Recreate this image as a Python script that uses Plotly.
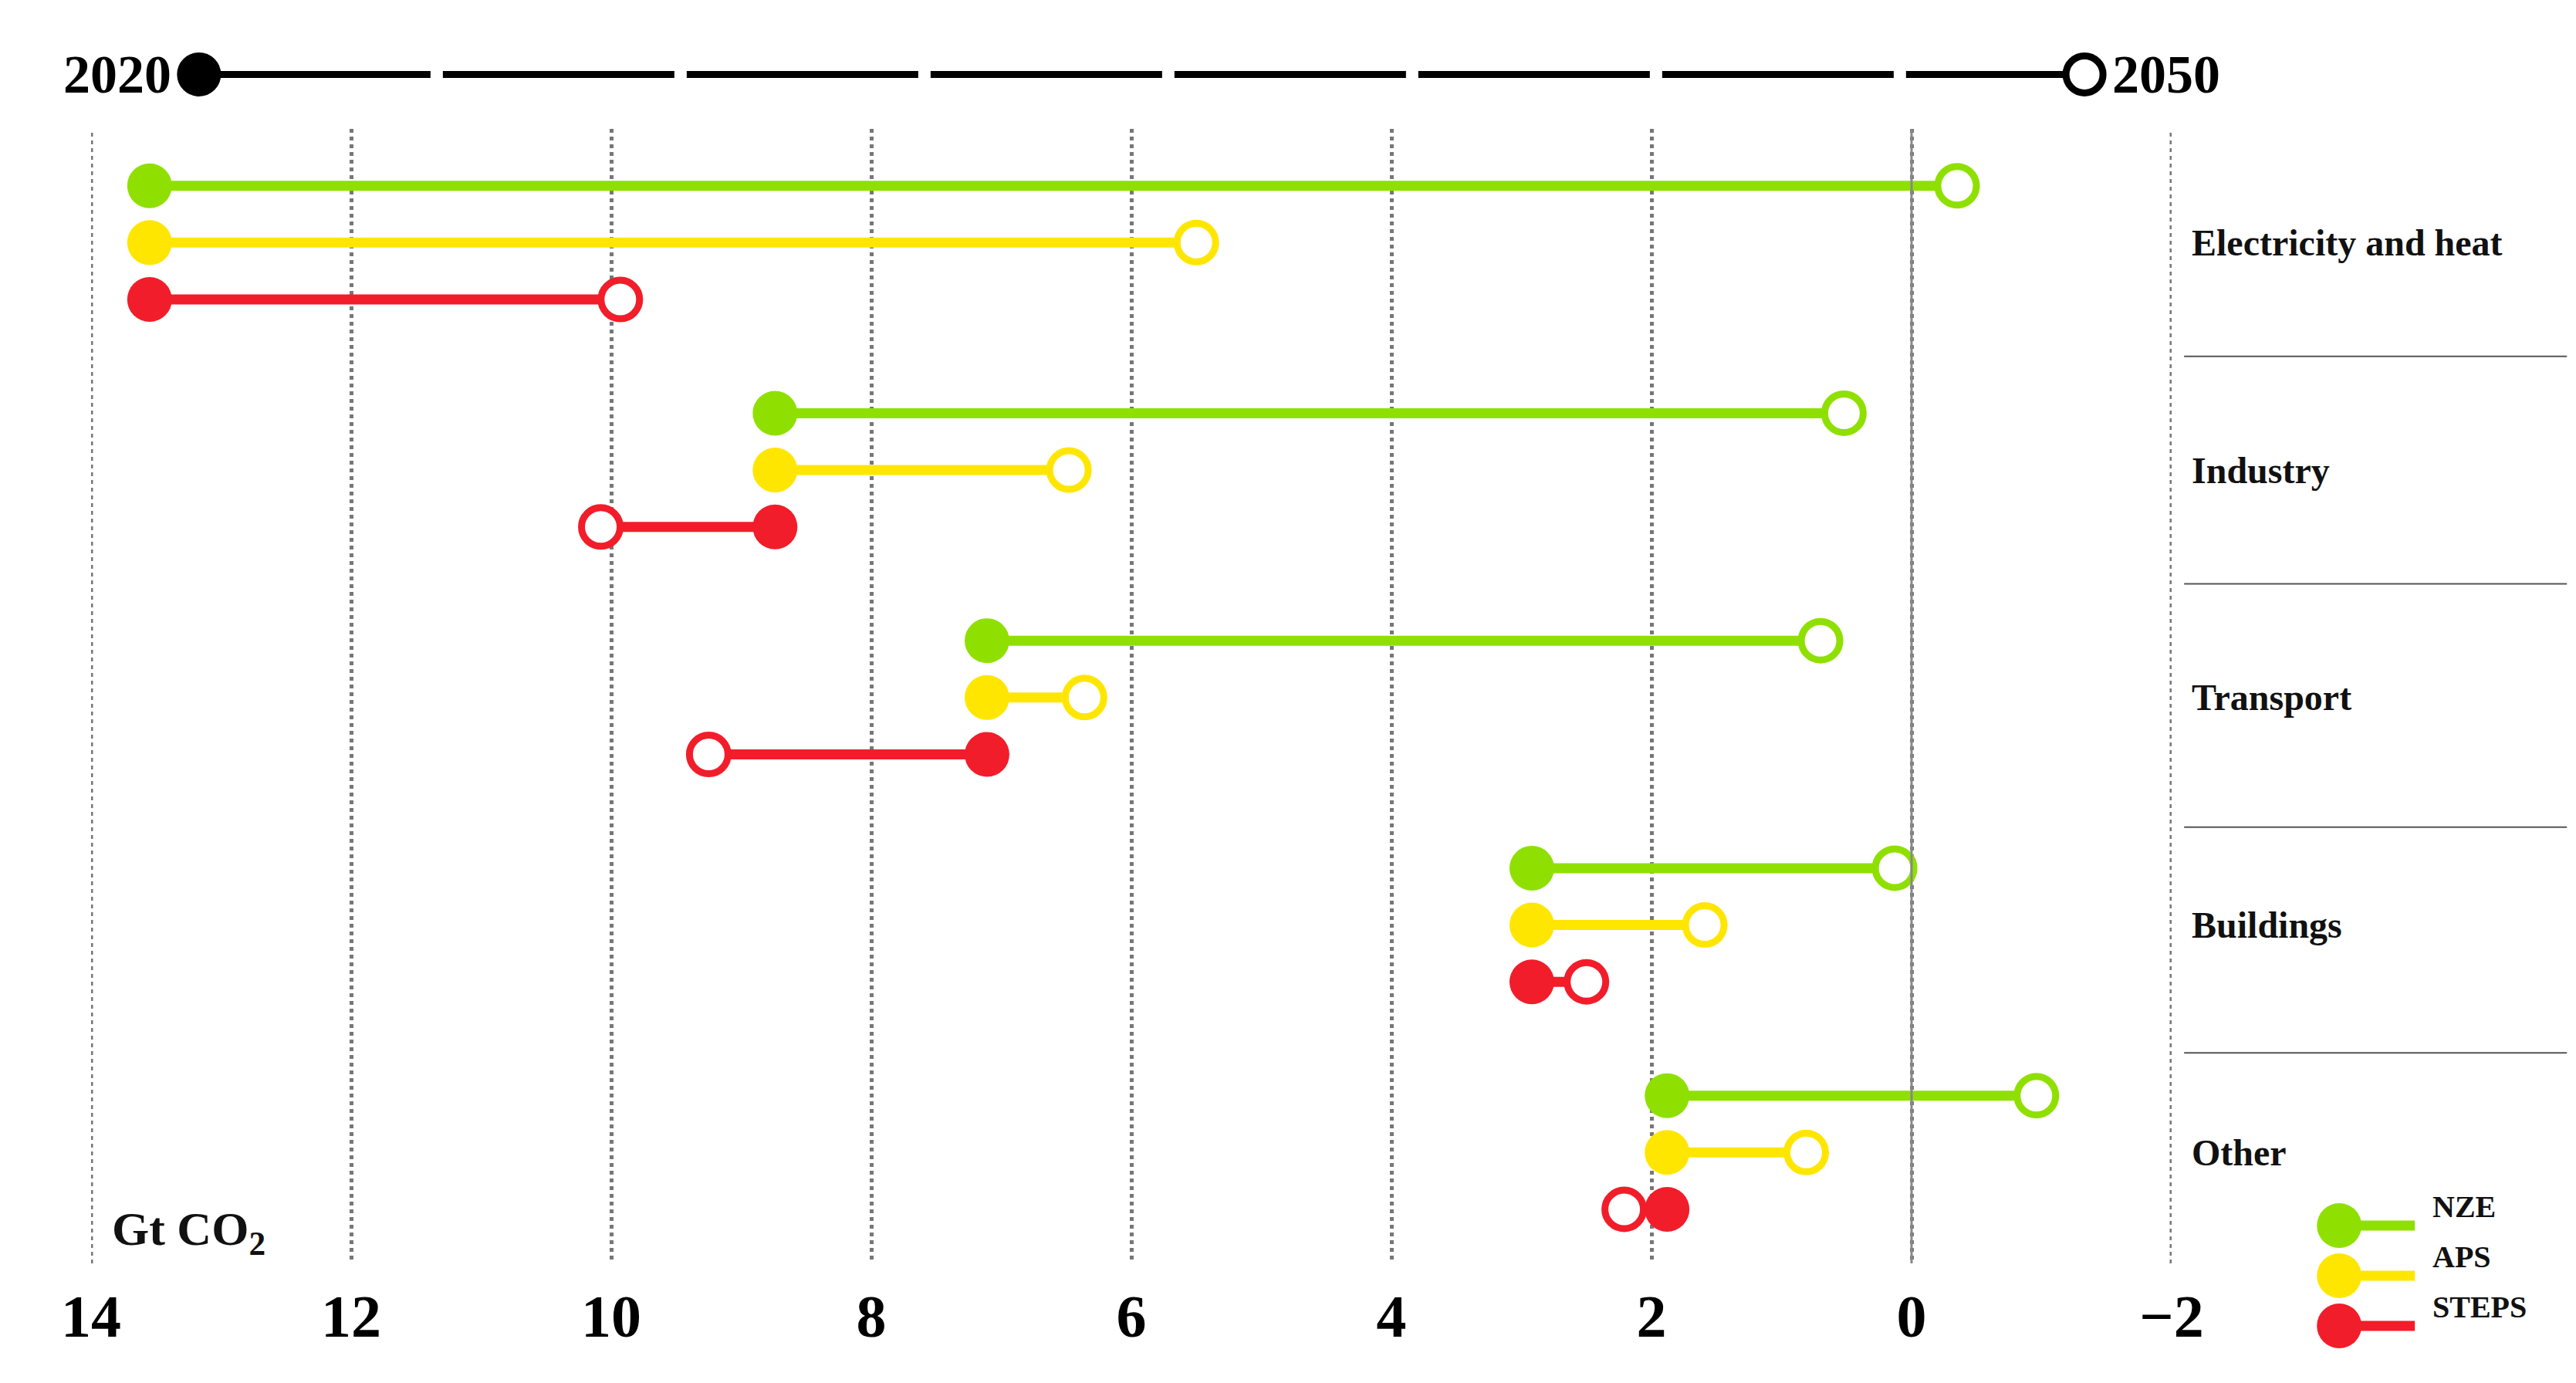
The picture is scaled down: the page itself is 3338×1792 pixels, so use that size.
import plotly.graph_objects as go

sectors = ["Electricity and heat", "Industry", "Transport", "Buildings", "Other"]
start_2020 = [13.55, 8.74, 7.11, 2.92, 1.88]
nze_2050 = [-0.35, 0.52, 0.70, 0.13, -0.96]
aps_2050 = [5.50, 6.48, 6.36, 1.59, 0.81]
steps_2050 = [9.93, 10.08, 9.25, 2.50, 2.21]
scenarios = ["NZE", "APS", "STEPS"]
colors = {"NZE": "#8fe000", "APS": "#ffe600", "STEPS": "#f21d2a"}
ends = {"NZE": nze_2050, "APS": aps_2050, "STEPS": steps_2050}
xticks = [14, 12, 10, 8, 6, 4, 2, 0, -2]
xticklabels = ["<b>14</b>", "<b>12</b>", "<b>10</b>", "<b>8</b>", "<b>6</b>", "<b>4</b>", "<b>2</b>", "<b>0</b>", "<b>\u22122</b>"]

FONT = "Liberation Serif"
W, H = 3338, 1792
s = 3338 / 1568
fig = go.Figure()

for j, sc in enumerate(scenarios):
    xs, ys = [], []
    for i in range(len(sectors)):
        y = i * 4 + j
        xs += [start_2020[i], ends[sc][i], None]
        ys += [y, y, None]
    fig.add_trace(go.Scatter(x=xs, y=ys, mode="lines", line=dict(color=colors[sc], width=13),
                             showlegend=False, hoverinfo="skip"))
for j, sc in enumerate(scenarios):
    ys = [i * 4 + j for i in range(len(sectors))]
    fig.add_trace(go.Scatter(x=ends[sc], y=ys, mode="markers",
                             marker=dict(size=50, color="white", line=dict(color=colors[sc], width=9)),
                             showlegend=False))
    fig.add_trace(go.Scatter(x=start_2020, y=ys, mode="markers",
                             marker=dict(size=58, color=colors[sc]), showlegend=False))

shapes = []
for xv in [14, -2]:
    shapes.append(dict(type="line", xref="x", yref="paper", x0=xv, x1=xv, y0=0, y1=1,
                       line=dict(color="#777", width=5, dash="dot")))
shapes.append(dict(type="line", xref="x", yref="paper", x0=0, x1=0, y0=0, y1=1,
                   line=dict(color="#888", width=3)))
for yv in [3.0, 7.0, 11.28, 15.25]:
    shapes.append(dict(type="line", xref="paper", yref="y", x0=1.006, x1=1.19, y0=yv, y1=yv,
                       line=dict(color="#555", width=2)))
ty = 1.048
shapes.append(dict(type="line", xref="x", yref="paper", x0=13.17, x1=-1.33, y0=ty, y1=ty,
                   line=dict(color="black", width=9, dash="300px,16px")))
for xc, fill in [(13.17, "black"), (-1.33, "white")]:
    shapes.append(dict(type="circle", xref="x", yref="paper", xsizemode="pixel", ysizemode="pixel",
                       xanchor=xc, yanchor=ty, x0=-24, x1=24, y0=-24, y1=24,
                       fillcolor=fill, line=dict(color="black", width=9)))

annotations = []
# custom legend
for k, sc in enumerate(scenarios):
    ypx = 742 + k * 30.5
    yp = (765 - ypx) / 690
    x0p = (1420 - 52) / 1266
    x1p = (1466 - 52) / 1266
    shapes.append(dict(type="line", xref="paper", yref="paper", x0=x0p, x1=x1p, y0=yp, y1=yp,
                       line=dict(color=colors[sc], width=13)))
    shapes.append(dict(type="circle", xref="paper", yref="paper", xsizemode="pixel", ysizemode="pixel",
                       xanchor=x0p, yanchor=yp, x0=-29, x1=29, y0=-29, y1=29,
                       fillcolor=colors[sc], line=dict(width=0)))
    annotations.append(dict(xref="paper", yref="paper", x=(1476 - 52) / 1266, y=yp, text="<b>" + sc + "</b>",
                            showarrow=False, xanchor="left", font=dict(family=FONT, size=40, color="#111")))

for i, name in enumerate(sectors):
    annotations.append(dict(xref="paper", yref="y", x=1.009, y=i * 4 + 1, text="<b>" + name + "</b>",
                            showarrow=False, xanchor="left", font=dict(family=FONT, size=48, color="#111")))
annotations.append(dict(xref="x", yref="paper", x=13.17, y=ty, text="<b>2020</b>", showarrow=False,
                        xanchor="right", yanchor="middle", xshift=-34, font=dict(family=FONT, size=70, color="black")))
annotations.append(dict(xref="x", yref="paper", x=-1.33, y=ty, text="<b>2050</b>", showarrow=False,
                        xanchor="left", yanchor="middle", xshift=34, font=dict(family=FONT, size=70, color="black")))
annotations.append(dict(xref="x", yref="paper", x=13.85, y=0.0, text="<b>Gt CO<sub>2</sub></b>",
                        showarrow=False, xanchor="left", yanchor="bottom",
                        font=dict(family=FONT, size=62, color="#111")))

fig.update_layout(
    width=W, height=H, plot_bgcolor="white", paper_bgcolor="white", showlegend=False,
    margin=dict(l=int(52 * s), r=int(250 * s), t=int(75 * s), b=int(77 * s)),
    xaxis=dict(range=[14, -2], tickvals=xticks, ticktext=xticklabels, showgrid=True,
               gridcolor="#777", griddash="dot", gridwidth=5, zeroline=False, showline=False,
               tickfont=dict(family=FONT, size=78, color="black"), ticks="", ticklabelstandoff=16),
    yaxis=dict(range=[18.95, -1.0], visible=False),
    shapes=shapes, annotations=annotations,
)
fig.write_html("out.html")
